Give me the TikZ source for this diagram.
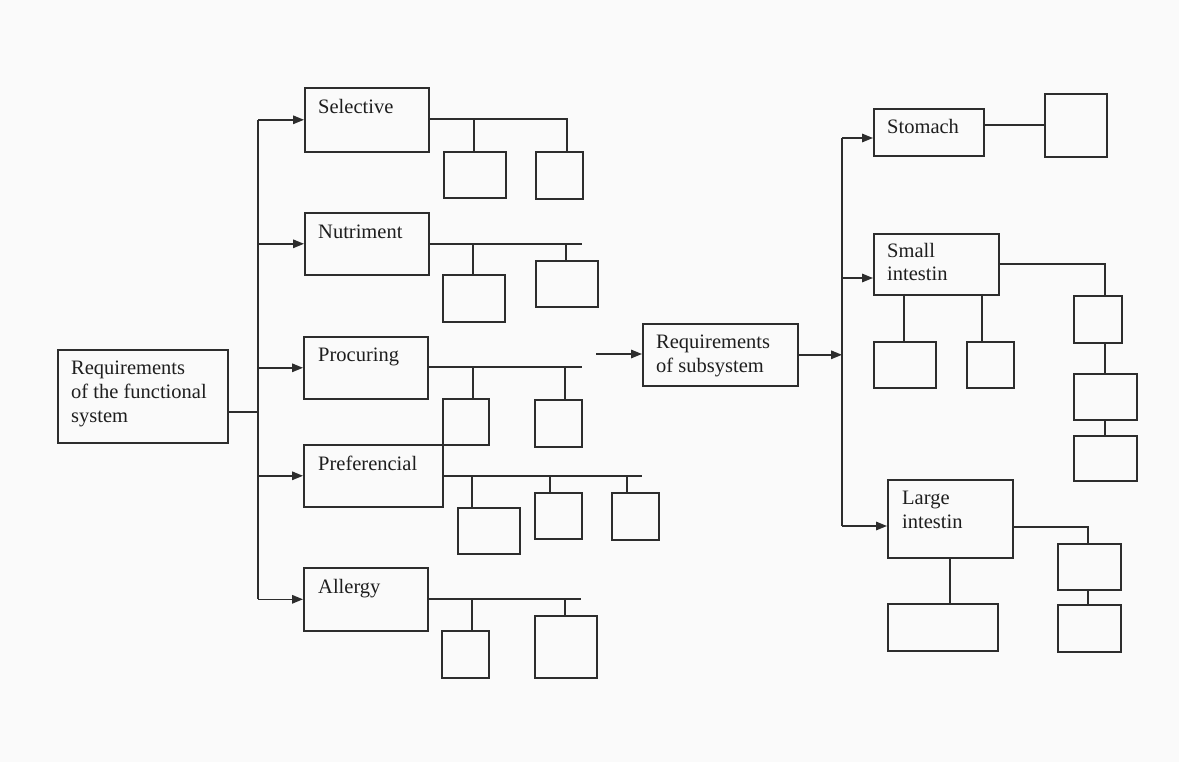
\documentclass[tikz,border=0pt]{standalone}
\usepackage{fontspec}
\setmainfont{Liberation Serif}
\usetikzlibrary{arrows.meta}
\definecolor{linec}{RGB}{45,45,45}
\definecolor{txtc}{RGB}{30,30,30}
\definecolor{bgc}{RGB}{250,250,250}
\newcommand{\mybox}[5]{\node[bx, minimum width={#4-#2}, minimum height={#5-#3}] (#1) at (#2,#3) {};}
\begin{document}
\begin{tikzpicture}[x=1pt,y=-1pt,
  bx/.style={draw=linec, line width=1.6pt, inner sep=0pt, anchor=north west, fill=none},
  lbl/.style={anchor=base west, inner sep=0pt, align=left, text=txtc, font=\fontsize{20.5}{24}\selectfont},
  ln/.style={draw=linec, line width=1.6pt},
  arr/.style={ln, -{Triangle[length=11pt,width=8.5pt]}}]
\fill[bgc] (0,0) rectangle (1179,762);
\useasboundingbox (0,0) rectangle (1179,762);
% left main
\mybox{M}{57}{349}{227}{442}
\node[lbl] at ([xshift=14pt,yshift=-73.5pt]M.north west) {Requirements\\of the functional\\system};
\mybox{S1}{304}{87}{428}{151}
\mybox{S2}{304}{212}{428}{274}
\mybox{S3}{303}{336}{427}{398}
\mybox{S4}{303}{444}{442}{506}
\mybox{S5}{303}{567}{427}{630}
\node[lbl] at ([xshift=14pt,yshift=-26.5pt]S1.north west) {Selective};
\node[lbl] at ([xshift=14pt,yshift=-26.5pt]S2.north west) {Nutriment};
\node[lbl] at ([xshift=15pt,yshift=-26pt]S3.north west) {Procuring};
\node[lbl] at ([xshift=15pt,yshift=-26pt]S4.north west) {Preferencial};
\node[lbl] at ([xshift=15pt,yshift=-26pt]S5.north west) {Allergy};
% left trunk
\coordinate (tr) at (258,412);
\draw[ln] (M.east |- tr) -- (tr);
\draw[ln] (S1.west -| tr) -- (S5.west -| tr);
\foreach \s in {S1,S2,S3,S4,S5} \draw[arr] (\s.west -| tr) -- (\s.west);
% Selective children
\mybox{c11}{443}{151}{505}{197}
\mybox{c12}{535}{151}{582}{198}
\coordinate (b11) at (474,119); \coordinate (b12) at (567,119);
\draw[ln] (S1.east |- b11) -- (b12) -- (b12 |- c12.north);
\draw[ln] (b11) -- (b11 |- c11.north);
% Nutriment children
\mybox{c21}{442}{274}{504}{321}
\mybox{c22}{535}{260}{597}{306}
\coordinate (b21) at (473,244); \coordinate (b22) at (566,244); \coordinate (e2) at (582,244);
\draw[ln] (S2.east |- b21) -- (e2);
\draw[ln] (b21) -- (b21 |- c21.north);
\draw[ln] (b22) -- (b22 |- c22.north);
% Procuring children
\mybox{c31}{442}{398}{488}{444}
\mybox{c32}{534}{399}{581}{446}
\coordinate (b31) at (473,367); \coordinate (b32) at (565,367); \coordinate (e3) at (582,367);
\draw[ln] (S3.east |- b31) -- (e3);
\draw[ln] (b31) -- (b31 |- c31.north);
\draw[ln] (b32) -- (b32 |- c32.north);
% Preferencial children
\mybox{c41}{457}{507}{519}{553}
\mybox{c42}{534}{492}{581}{538}
\mybox{c43}{611}{492}{658}{539}
\coordinate (b41) at (472,476); \coordinate (b42) at (550,476); \coordinate (b43) at (627,476); \coordinate (e4) at (642,476);
\draw[ln] (S4.east |- b41) -- (e4);
\draw[ln] (b41) -- (b41 |- c41.north);
\draw[ln] (b42) -- (b42 |- c42.north);
\draw[ln] (b43) -- (b43 |- c43.north);
% Allergy children
\mybox{c51}{441}{630}{488}{677}
\mybox{c52}{534}{615}{596}{677}
\coordinate (b51) at (472,599); \coordinate (b52) at (565,599); \coordinate (e5) at (581,599);
\draw[ln] (S5.east |- b51) -- (e5);
\draw[ln] (b51) -- (b51 |- c51.north);
\draw[ln] (b52) -- (b52 |- c52.north);
% subsystem
\mybox{R}{642}{323}{797}{385}
\node[lbl] at ([xshift=14pt,yshift=-49pt]R.north west) {Requirements\\of subsystem};
\coordinate (fa) at (596,354);
\draw[arr] (fa) -- (R.west |- fa);
\coordinate (rt) at (842,355);
\draw[arr] (R.east) -- (R.east -| rt);
% right boxes
\mybox{St}{873}{108}{983}{155}
\mybox{Si}{873}{233}{998}{294}
\mybox{Li}{887}{479}{1012}{557}
\node[lbl] at ([xshift=14pt,yshift=-26pt]St.north west) {Stomach};
\node[lbl] at ([xshift=14pt,yshift=-48pt]Si.north west) {Small\\intestin};
\node[lbl] at ([xshift=15pt,yshift=-49.5pt]Li.north west) {Large\\intestin};
\coordinate (ra1) at (842,138); \coordinate (ra2) at (842,278); \coordinate (ra3) at (842,526);
\draw[ln] (ra1) -- (ra3);
\draw[arr] (ra1) -- (ra1 -| St.west);
\draw[arr] (ra2) -- (ra2 -| Si.west);
\draw[arr] (ra3) -- (ra3 -| Li.west);
% stomach child
\mybox{Sc}{1044}{93}{1106}{156}
\draw[ln] (Sc.west -| St.east) -- (Sc.west);
% small intestin children
\mybox{j1}{873}{341}{935}{387}
\mybox{j2}{966}{341}{1013}{387}
\coordinate (d1) at (904,294); \coordinate (d2) at (982,294);
\draw[ln] (d1) -- (d1 |- j1.north);
\draw[ln] (d2) -- (d2 |- j2.north);
\mybox{k1}{1073}{295}{1121}{342}
\mybox{k2}{1073}{373}{1136}{419}
\mybox{k3}{1073}{435}{1136}{480}
\coordinate (si1) at (1105,264);
\draw[ln] (Si.east |- si1) -- (si1) -- (si1 |- k1.north);
\draw[ln] (si1 |- k1.south) -- (si1 |- k2.north);
\draw[ln] (si1 |- k2.south) -- (si1 |- k3.north);
% large intestin children
\mybox{l1}{1057}{543}{1120}{589}
\mybox{l2}{1057}{604}{1120}{651}
\mybox{l3}{887}{603}{997}{650}
\coordinate (li1) at (1088,527);
\draw[ln] (Li.east |- li1) -- (li1) -- (li1 |- l1.north);
\draw[ln] (li1 |- l1.south) -- (li1 |- l2.north);
\coordinate (d3) at (950,557);
\draw[ln] (d3) -- (d3 |- l3.north);
\end{tikzpicture}
\end{document}
